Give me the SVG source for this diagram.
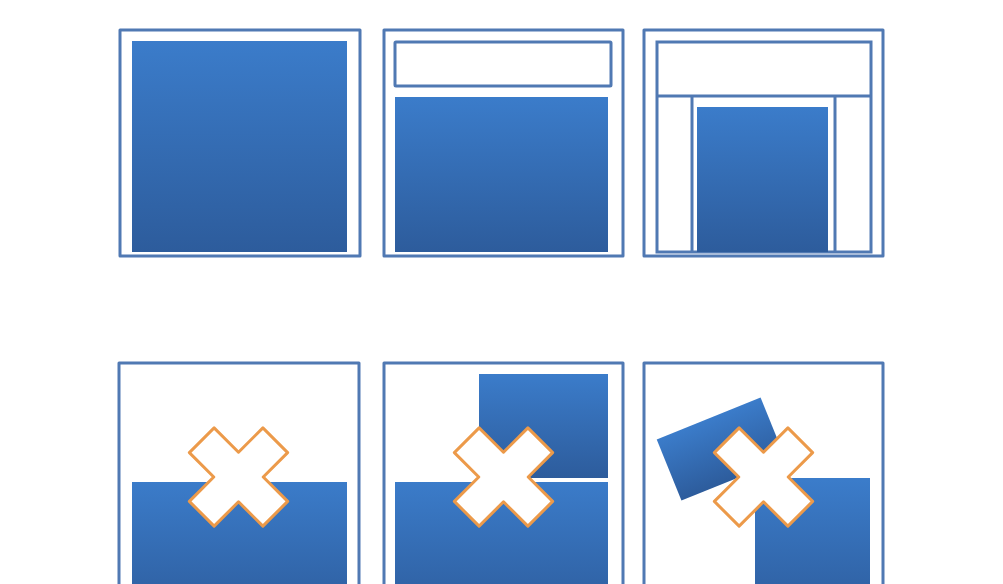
<svg xmlns="http://www.w3.org/2000/svg" width="1003" height="584" viewBox="0 0 1003 584">
  <defs>
    <linearGradient id="blue" x1="0" y1="0" x2="0" y2="1">
      <stop offset="0" stop-color="#3b7cca"/>
      <stop offset="1" stop-color="#2d5c9c"/>
    </linearGradient>
    <linearGradient id="blueLong" gradientUnits="userSpaceOnUse" x1="0" y1="480" x2="0" y2="620">
      <stop offset="0" stop-color="#3b7cca"/>
      <stop offset="1" stop-color="#2d5c9c"/>
    </linearGradient>
    <polygon id="cross" points="-17.5,-52 17.5,-52 17.5,-17.5 52,-17.5 52,17.5 17.5,17.5 17.5,52 -17.5,52 -17.5,17.5 -52,17.5 -52,-17.5 -17.5,-17.5" transform="rotate(45)"/>
    <style>
      .frame { fill: none; stroke: #5079b3; stroke-width: 3; stroke-linejoin: round; }
      .inner { fill: #ffffff; stroke: #5079b3; stroke-width: 3; }
      .line { stroke: #5079b3; stroke-width: 3; }
      .blue { fill: url(#blue); }
      .blueL { fill: url(#blueLong); }
      .x { fill: #ffffff; stroke: #ec9a4a; stroke-width: 3; stroke-linejoin: round; }
    </style>
  </defs>
  <rect width="1003" height="584" fill="#ffffff"/>

  <g id="panel1">
    <rect class="blue" x="132" y="41" width="215" height="211"/>
    <rect class="frame" x="120" y="30" width="240" height="226"/>
  </g>

  <g id="panel2">
    <rect class="inner" x="395" y="42" width="216" height="44" rx="1"/>
    <rect class="blue" x="395" y="97" width="213" height="155"/>
    <rect class="frame" x="384" y="30" width="239" height="226"/>
  </g>

  <g id="panel3">
    <rect class="inner" x="657" y="42" width="214" height="210"/>
    <line class="line" x1="657" y1="96" x2="871" y2="96"/>
    <line class="line" x1="692" y1="96" x2="692" y2="252"/>
    <line class="line" x1="835" y1="96" x2="835" y2="252"/>
    <rect class="blue" x="697" y="107" width="131" height="145"/>
    <rect class="frame" x="644" y="30" width="239" height="226"/>
  </g>

  <g id="panel4">
    <rect class="blueL" x="132" y="482" width="215" height="110"/>
    <rect class="frame" x="119" y="363" width="240" height="240"/>
    <use href="#cross" class="x" transform="translate(238.5,477)"/>
  </g>

  <g id="panel5">
    <rect class="blue" x="479" y="374" width="129" height="104"/>
    <rect class="blueL" x="395" y="482" width="213" height="110"/>
    <rect class="frame" x="384" y="363" width="239" height="240"/>
    <use href="#cross" class="x" transform="translate(503.5,477)"/>
  </g>

  <g id="panel6">
    <rect class="blue" x="-56" y="-33" width="112" height="66" transform="translate(721,449) rotate(-22)"/>
    <rect class="blueL" x="755" y="478" width="115" height="114"/>
    <rect class="frame" x="644" y="363" width="239" height="240"/>
    <use href="#cross" class="x" transform="translate(763.5,477)"/>
  </g>

  <g id="connectors"/>
</svg>
